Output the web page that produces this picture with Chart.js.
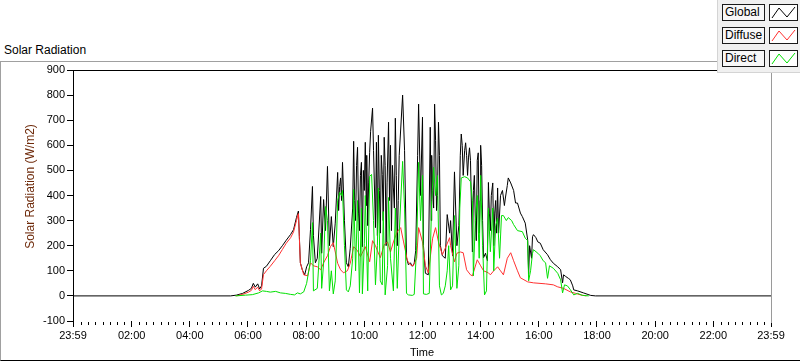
<!DOCTYPE html>
<html>
<head>
<meta charset="utf-8">
<script src="https://cdn.jsdelivr.net/npm/chart.js@4/dist/chart.umd.min.js"></script>
<style>
  body { margin: 0; background: #fff; font-family: "Liberation Sans", Arial, sans-serif; }
  #wrap { position: relative; width: 800px; height: 361px; overflow: hidden; }
  #frame { position: absolute; left: 0; top: 61px; width: 800px; height: 300px; box-sizing: border-box;
           border-top: 1px solid #a0a0a0; border-left: 1px solid #a0a0a0; border-bottom: 1px solid #000; }
  #caption { position: absolute; left: 4px; top: 43px; font-size: 12px; color: #000; }
  #solarChart { position: absolute; left: 0; top: 0; }
  #legend { position: absolute; left: 717px; top: 0; width: 83px; height: 73px; box-sizing: border-box;
            background: #f0f0f0; border-left: 1px solid #d4d4d4; border-bottom: 1px solid #d4d4d4; }
  .name { position: absolute; left: 4px; width: 43px; height: 17px; box-sizing: border-box; border: 1px solid #1a1a1a;
          background: #f7f7f7; font-size: 12px; line-height: 15px; padding-left: 2px; color: #000; }
  .swatch { position: absolute; left: 51px; width: 29px; height: 17px; box-sizing: border-box; border: 1px solid #1a1a1a; background: #fff; }
  .swatch svg { position: absolute; left: 0; top: 0; }
</style>
</head>
<body>
<div id="wrap">
  <div id="frame"></div>
  <div id="caption">Solar Radiation</div>
  <canvas id="solarChart" width="800" height="361"></canvas>
  <div id="legend"></div>
</div>
<script>
// Axis ticks
const xTickMinutes = [-1, 120, 240, 360, 480, 600, 720, 840, 960, 1080, 1200, 1320, 1439];
const xTickLabels = ['23:59', '02:00', '04:00', '06:00', '08:00', '10:00', '12:00', '14:00', '16:00', '18:00', '20:00', '22:00', '23:59'];
const yTicks = [-100, 0, 100, 200, 300, 400, 500, 600, 700, 800, 900];

// Series names / colours
const seriesNames = ['Global', 'Diffuse', 'Direct'];
const seriesColors = ['#000000', '#ff3030', '#00e000'];

// Global radiation (time in minutes after midnight, W/m2)
const globalTime = [
    -1, 324, 336, 349, 361, 367, 371, 375, 380, 384,
    388, 392, 398, 406, 415, 423, 431, 439, 448, 454,
    460, 464, 466, 468, 472, 477, 481, 485, 489, 493,
    495, 499, 503, 510, 512, 516, 520, 524, 528, 532,
    536, 540, 545, 547, 549, 551, 553, 555, 559, 563,
    567, 571, 576, 578, 580, 582, 584, 586, 588, 590,
    592, 594, 596, 598, 600, 602, 604, 605, 607, 609,
    611, 613, 617, 619, 623, 625, 627, 629, 631, 633,
    635, 637, 639, 641, 643, 645, 647, 650, 652, 654,
    656, 658, 660, 662, 664, 666, 668, 670, 672, 679,
    683, 687, 691, 695, 699, 703, 706, 710, 712, 716,
    720, 722, 726, 732, 736, 738, 739, 741, 743, 745,
    747, 749, 751, 753, 755, 757, 761, 767, 771, 776,
    778, 782, 786, 791, 795, 796, 798, 800, 802, 804,
    807, 809, 811, 813, 815, 817, 819, 823, 825, 827,
    829, 831, 833, 835, 837, 839, 840, 842, 844, 846,
    850, 854, 856, 858, 860, 862, 865, 867, 869, 871,
    873, 875, 877, 881, 885, 889, 891, 895, 897, 902,
    908, 912, 916, 922, 926, 932, 937, 939, 941, 945,
    947, 949, 954, 958, 963, 969, 978, 984, 990, 999,
    1005, 1009, 1011, 1015, 1021, 1025, 1030, 1032, 1040, 1052,
    1067, 1077, 1439
];
const globalValue = [
    0, 0, 3, 10, 22, 30, 50, 35, 48, 28,
    40, 110, 118, 140, 165, 180, 200, 222, 245, 264,
    312, 338, 236, 132, 104, 84, 116, 132, 264, 436,
    240, 132, 150, 396, 170, 384, 260, 516, 200, 316,
    196, 290, 492, 340, 436, 470, 380, 532, 300, 132,
    116, 190, 350, 616, 380, 300, 520, 592, 330, 260,
    480, 532, 196, 500, 420, 612, 360, 560, 280, 450,
    572, 656, 748, 580, 272, 612, 240, 640, 420, 250,
    560, 484, 300, 632, 520, 200, 450, 692, 380, 600,
    260, 520, 430, 350, 708, 480, 200, 380, 560, 800,
    580, 152, 124, 132, 118, 130, 180, 560, 764, 400,
    712, 200, 90, 84, 672, 300, 560, 420, 350, 764,
    620, 340, 400, 692, 560, 200, 160, 150, 324, 250,
    300, 160, 494, 200, 280, 350, 560, 645, 600, 480,
    580, 610, 560, 480, 553, 590, 540, 175, 420, 480,
    300, 220, 540, 570, 250, 380, 600, 520, 300, 152,
    170, 140, 452, 330, 260, 400, 450, 200, 330, 380,
    250, 430, 250, 400, 420, 360, 390, 440, 470, 450,
    420, 370, 370, 330, 316, 290, 224, 88, 200, 150,
    236, 244, 232, 215, 210, 184, 164, 144, 130, 116,
    104, 52, 84, 78, 70, 64, 40, 24, 20, 12,
    2, 0, 0
];

// Diffuse radiation
const diffuseTime = [
    336, 349, 361, 367, 371, 375, 380, 384, 388, 392,
    398, 406, 415, 423, 431, 439, 448, 454, 460, 464,
    466, 468, 475, 483, 489, 495, 503, 510, 516, 524,
    530, 536, 545, 551, 557, 565, 571, 578, 586, 592,
    602, 611, 617, 623, 627, 633, 641, 648, 654, 660,
    668, 675, 681, 689, 695, 701, 708, 712, 720, 726,
    732, 741, 747, 753, 761, 767, 776, 778, 786, 791,
    798, 804, 811, 819, 823, 833, 840, 846, 856, 860,
    867, 875, 881, 887, 895, 902, 908, 916, 922, 937,
    949, 974, 990, 999, 1011, 1025, 1036, 1046, 1058
];
const diffuseValue = [
    0, 6, 15, 22, 38, 25, 35, 20, 28, 85,
    100, 118, 140, 160, 185, 210, 232, 255, 300, 328,
    230, 132, 84, 80, 132, 120, 116, 104, 132, 160,
    196, 212, 130, 104, 92, 100, 130, 196, 180, 156,
    196, 136, 220, 200, 180, 152, 204, 215, 175, 215,
    256, 272, 215, 140, 124, 120, 150, 272, 215, 120,
    92, 230, 272, 215, 164, 190, 232, 200, 136, 170,
    175, 172, 104, 84, 80, 144, 120, 100, 92, 84,
    100, 116, 100, 84, 150, 172, 140, 100, 72, 56,
    52, 48, 44, 36, 30, 16, 10, 4, 0
];

// Direct radiation
const directTime = [
    334, 355, 369, 382, 390, 398, 406, 417, 427, 437,
    448, 456, 462, 468, 475, 481, 489, 493, 495, 503,
    510, 512, 516, 520, 524, 528, 532, 536, 540, 545,
    549, 553, 555, 559, 563, 567, 571, 576, 578, 582,
    586, 590, 594, 596, 600, 602, 607, 611, 615, 619,
    623, 627, 629, 633, 637, 639, 643, 648, 650, 654,
    660, 664, 668, 672, 679, 683, 687, 691, 699, 703,
    708, 712, 716, 720, 722, 728, 734, 739, 743, 747,
    751, 755, 759, 763, 767, 771, 774, 778, 782, 786,
    791, 795, 797, 800, 807, 813, 819, 823, 825, 829,
    833, 837, 840, 844, 848, 852, 856, 860, 865, 867,
    871, 875, 879, 883, 887, 893, 897, 904, 908, 916,
    926, 932, 937, 939, 943, 947, 949, 958, 963, 969,
    974, 978, 982, 990, 999, 1005, 1009, 1013, 1019, 1025,
    1032, 1040, 1050, 1063
];
const directValue = [
    0, 3, 5, 12, 20, 18, 15, 18, 12, 10,
    6, 4, 12, 8, 16, 50, 140, 292, 20, 30,
    250, 30, 130, 356, 300, 20, 100, 8, 60, 380,
    412, 400, 420, 200, 24, 16, 40, 150, 424, 100,
    380, 12, 350, 8, 210, 400, 20, 476, 484, 300,
    44, 200, 430, 60, 44, 336, 4, 120, 392, 150,
    20, 350, 30, 250, 536, 350, 10, 4, 2, 6,
    200, 532, 300, 480, 8, 6, 10, 380, 512, 400,
    480, 40, 4, 10, 40, 100, 200, 24, 40, 320,
    30, 120, 350, 470, 475, 470, 455, 380, 80, 300,
    400, 150, 480, 200, 4, 20, 350, 176, 350, 100,
    280, 310, 150, 320, 320, 300, 312, 300, 284, 260,
    256, 230, 220, 60, 100, 170, 184, 170, 160, 140,
    132, 70, 120, 110, 90, 64, 12, 44, 40, 25,
    4, 10, 2, 0
];

function toPoints(times, values) {
    return times.map((t, i) => ({ x: t, y: values[i] }));
}

const tickFont = { family: 'Liberation Sans', size: 11 };

// Minor ticks on the time axis, plot frame (top black, right grey), y axis name
const frameAndMinorTicks = {
    id: 'frameAndMinorTicks',
    afterDraw(chart) {
        const ctx = chart.ctx;
        const area = chart.chartArea;
        const xs = chart.scales.x;
        ctx.save();
        ctx.strokeStyle = '#000';
        ctx.lineWidth = 1;
        ctx.beginPath();
        for (let m = 15; m < 1440; m += 15) {
            if (m % 120 === 0) continue;
            const px = Math.round(xs.getPixelForValue(m)) + 0.5;
            ctx.moveTo(px, area.bottom + 1);
            ctx.lineTo(px, area.bottom + 4);
        }
        ctx.stroke();
        ctx.beginPath();
        ctx.moveTo(area.left, Math.round(area.top) + 0.5);
        ctx.lineTo(area.right, Math.round(area.top) + 0.5);
        ctx.stroke();
        ctx.strokeStyle = '#9a9a9a';
        ctx.beginPath();
        ctx.moveTo(Math.round(area.right) + 0.5, area.top);
        ctx.lineTo(Math.round(area.right) + 0.5, area.bottom + 2);
        ctx.stroke();

        // y axis name, sits a little above the middle of the plot
        ctx.translate(31, (area.top + area.bottom) / 2 - 9);
        ctx.rotate(-Math.PI / 2);
        ctx.fillStyle = '#6e2a0a';
        ctx.font = '12px "Liberation Sans"';
        ctx.textAlign = 'center';
        ctx.textBaseline = 'middle';
        ctx.fillText('Solar Radiation (W/m2)', 0, 0);
        ctx.restore();
    }
};

const ctx = document.getElementById('solarChart').getContext('2d');
const solarChart = new Chart(ctx, {
    type: 'line',
    data: {
        datasets: [
            { label: seriesNames[0], data: toPoints(globalTime, globalValue), borderColor: seriesColors[0], order: 3 },
            { label: seriesNames[1], data: toPoints(diffuseTime, diffuseValue), borderColor: seriesColors[1], order: 2 },
            { label: seriesNames[2], data: toPoints(directTime, directValue), borderColor: seriesColors[2], order: 1 }
        ]
    },
    options: {
        responsive: false,
        animation: false,
        layout: { padding: { top: 70, right: 29, left: 0, bottom: 0 } },
        elements: {
            point: { radius: 0 },
            line: { borderWidth: 1, tension: 0, fill: false }
        },
        plugins: {
            legend: { display: false },
            tooltip: { enabled: false }
        },
        scales: {
            x: {
                type: 'linear',
                min: xTickMinutes[0],
                max: xTickMinutes[xTickMinutes.length - 1],
                afterBuildTicks: scale => { scale.ticks = xTickMinutes.map(v => ({ value: v })); },
                afterFit: scale => { scale.height = 40; },
                ticks: {
                    autoSkip: false, maxRotation: 0, padding: 2, color: '#000', font: tickFont,
                    callback: (value, index) => xTickLabels[index]
                },
                grid: { drawOnChartArea: false, tickLength: 6, color: '#000', lineWidth: 1 },
                border: { display: false },
                title: { display: true, text: 'Time', color: '#000', font: tickFont, padding: { top: 0, bottom: 1 } }
            },
            y: {
                min: yTicks[0],
                max: yTicks[yTicks.length - 1],
                afterBuildTicks: scale => { scale.ticks = yTicks.map(v => ({ value: v })); },
                afterFit: scale => { scale.width = 73; },
                ticks: { padding: 2, color: '#000', font: tickFont },
                grid: { drawOnChartArea: false, tickLength: 6, color: '#000', lineWidth: 1 },
                border: { display: true, color: '#000', width: 1 },
                title: { display: false }
            }
        }
    },
    plugins: [frameAndMinorTicks]
});

// Legend panel (name box + line sample)
const legend = document.getElementById('legend');
seriesNames.forEach((name, i) => {
    const top = 4 + i * 23;
    legend.insertAdjacentHTML('beforeend', `
        <div class="name" style="top:${top}px">${name}</div>
        <div class="swatch" style="top:${top}px">
            <svg width="27" height="15"><polyline points="2,13 9,3 17,12 25,2" fill="none" stroke="${seriesColors[i]}" stroke-width="1"/></svg>
        </div>`);
});
</script>
</body>
</html>
